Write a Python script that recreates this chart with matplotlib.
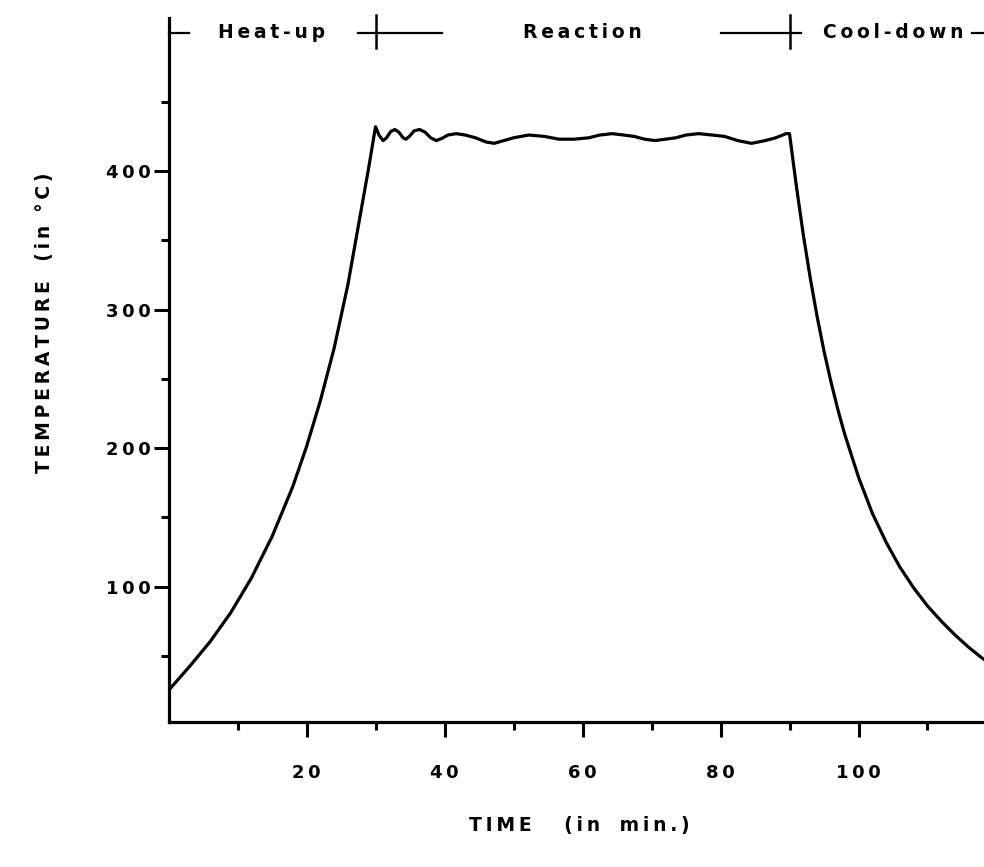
import matplotlib.pyplot as plt
from matplotlib.ticker import FixedLocator

# heat-up, reaction plateau and cool-down (minutes, deg C)
heat_t = [0, 3, 6, 9, 12, 15, 18, 20, 22, 24, 26, 28, 29, 30]
heat_v = [25, 42, 60, 81, 106, 136, 172, 201, 234, 272, 318, 374, 402, 432]

react_t = [30.5, 31.1, 31.6, 32.2, 32.8, 33.4, 34.0, 34.4, 34.9, 35.6, 36.4, 37.2,
           38.0, 38.8, 39.6, 40.5, 41.7, 43.0, 44.5, 46.0, 47.2, 48.6, 50.0, 52.2,
           54.5, 56.6, 58.8, 60.9, 62.5, 64.3, 66.0, 67.5, 69.0, 70.5, 72.0, 73.5,
           75.0, 76.8, 78.8, 80.6, 82.5, 84.5, 86.5, 88.0, 89.5]
react_v = [426, 422, 424, 428.5, 430, 428, 424, 423, 425, 429, 430, 428,
           424, 422, 423.5, 426, 427, 426, 424, 421, 420, 422, 424, 426,
           425, 423, 423, 424, 426, 427, 426, 425, 423, 422, 423, 424,
           426, 427, 426, 425, 422, 420, 422, 424, 427]

cool_t = [90, 91, 92, 93, 94, 95, 96, 97, 98, 100, 102, 104, 106, 108, 110,
          112, 114, 116, 118, 120]
cool_v = [427, 389, 354, 323, 295, 270, 248, 228, 210, 179, 153, 132, 114, 99,
          86, 75, 65, 56, 48, 42]

phase_names = ["Heat-up", "Reaction", "Cool-down"]
phase_edges = [0, 30, 90, 120]
# pieces of the bracket line drawn across the top (minutes)
bracket_segments = [(0, 3.0), (27.5, 39.7), (80.0, 91.6), (116.5, 120)]

y_major = [100, 200, 300, 400]
y_minor = [50, 150, 250, 350, 450]
x_major = [20, 40, 60, 80, 100]
x_minor = [10, 30, 50, 70, 90, 110]


def spaced(s):
    # old plotter lettering is widely spaced
    return "\u2009".join(s)


font = dict(family="DejaVu Sans", weight="bold", fontsize=13.5)

fig = plt.figure(figsize=(9.84, 8.67), dpi=100)
ax = fig.add_axes([168.5 / 984, 145 / 867, 828 / 984, 704 / 867])

t = heat_t + react_t + cool_t
v = heat_v + react_v + cool_v
ax.plot(t, v, color="black", lw=2.3, solid_joinstyle="round")

ax.set_xlim(0, 120)
ax.set_ylim(2.2, 510.5)

for side in ["top", "right"]:
    ax.spines[side].set_visible(False)
for side in ["left", "bottom"]:
    ax.spines[side].set_linewidth(2.3)

ax.set_xticks(x_major)
ax.set_xticklabels([spaced(str(x)) for x in x_major])
ax.xaxis.set_minor_locator(FixedLocator(x_minor))
ax.set_yticks(y_major)
ax.set_yticklabels([spaced(str(y)) for y in y_major])
ax.yaxis.set_minor_locator(FixedLocator(y_minor))

ax.tick_params(axis="x", which="major", direction="out", length=11, width=2.2, pad=19)
ax.tick_params(axis="x", which="minor", direction="out", length=6, width=2.2)
ax.tick_params(axis="y", which="major", direction="out", length=11, width=2.2, pad=2)
ax.tick_params(axis="y", which="minor", direction="out", length=6, width=2.2)
for lab in ax.get_xticklabels() + ax.get_yticklabels():
    lab.set_fontweight("bold")
    lab.set_fontsize(13)

# phase bracket at the top
y_br = 500
for a, b in bracket_segments:
    ax.plot([a, b], [y_br, y_br], color="black", lw=1.6, clip_on=False)
for edge in phase_edges[1:3]:
    ax.plot([edge, edge], [489, 513], color="black", lw=1.8, clip_on=False)
for i, name in enumerate(phase_names):
    mid = (phase_edges[i] + phase_edges[i + 1]) / 2
    ax.text(mid, y_br, spaced(name), ha="center", va="center", clip_on=False, **font)

fig.text(579 / 984, 1 - 826 / 867, spaced("TIME") + "     " + spaced("(in") + "   " + spaced("min.)"),
         ha="center", va="center", **font)
fig.text(45 / 984, 1 - 323 / 867, spaced("TEMPERATURE") + "   " + spaced("(in") + "  " + spaced("°C)"),
         ha="center", va="center", rotation=90, **font)

fig.savefig("out.png", dpi=100)
